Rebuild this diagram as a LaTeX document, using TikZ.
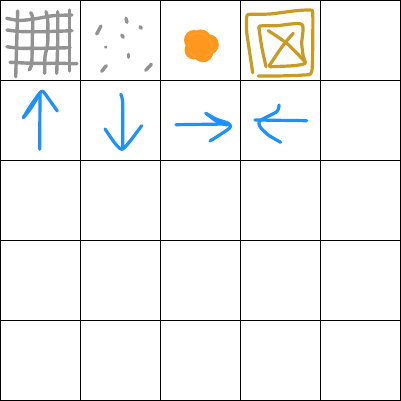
\documentclass[tikz,border=0pt]{standalone}
\definecolor{gridgrey}{HTML}{939393}
\definecolor{inkorange}{HTML}{FF961E}
\definecolor{inkorangelt}{HTML}{FFA43A}
\definecolor{inkgold}{HTML}{CB9A22}
\definecolor{inkblue}{HTML}{1E90FF}
\tikzset{
  cellgrid/.style={draw=black,line width=1pt},
  pen/.style={line width=#1,line cap=round,line join=round},
  greypen/.style={pen=3.4pt,draw=gridgrey},
  goldpen/.style={pen=3.2pt,draw=inkgold},
  bluepen/.style={pen=3.2pt,draw=inkblue},
  curve/.style={smooth,tension=0.45}
}
\begin{document}
\begin{tikzpicture}[x=1pt,y=-1pt]
\useasboundingbox (0,0) rectangle (401,401);
\fill[white] (0,0) rectangle (401,401);
% grid
\foreach \k in {0.5,80.5,160.5,240.5,320.5,400.5}{
  \draw[cellgrid] (\k,0) -- (\k,401);
  \draw[cellgrid] (0,\k) -- (401,\k);
}
% cell 1: hatch
\draw[greypen] plot[curve] coordinates {(6.7,18.3)(20,20.5)(37,18.5)(53,15.7)(72,15)};
\draw[greypen] plot[curve] coordinates {(7,30)(20,31.5)(43,31.7)(72,30.7)};
\draw[greypen] plot[curve] coordinates {(7,46.7)(20,48.3)(43,48.3)(70,47.7)};
\draw[greypen] plot[curve] coordinates {(10,62.3)(33,63.3)(57,63.3)(77,63.7)};
\draw[greypen] plot[curve] coordinates {(17.7,11)(16.7,43)(15.7,76.7)};
\draw[greypen] plot[curve] coordinates {(30.7,12.7)(32.7,18.3)(32.3,40)(31.7,63.3)(29.3,70)};
\draw[greypen] plot[curve] coordinates {(46,11.7)(47.7,20)(47.7,43)(45,56.7)(44.7,73.3)};
\draw[greypen] plot[curve] coordinates {(57.7,11.7)(57.7,43)(56.7,73.3)};
\draw[greypen] plot[curve] coordinates {(69.3,10)(69.3,43)(69.3,71)};
% cell 2: specks
\draw[greypen] (101,26) -- (96.7,34);
\draw[greypen] (126,18.3) -- (127,22.3);
\draw[greypen] (140,26.7) -- (141.3,28.3);
\draw[greypen] (121.7,35) -- (123.3,37.3);
\draw[greypen] (105.7,47) -- (105.8,47.1);
\draw[greypen] (128.7,54.3) -- (128.7,57.3);
\draw[greypen] (106.3,65.7) -- (101.7,71.3);
\draw[greypen] (151.3,64.3) -- (145.7,70.3);
% cell 3: blob
\fill[inkorange] (194,40) circle[radius=10] (201,39.5) circle[radius=10] (208.5,44.5) circle[radius=10.3] (203,52) circle[radius=10.3] (194,50) circle[radius=9.5];
\draw[pen=0.7pt,draw=inkorangelt] plot[smooth,tension=0.6] coordinates {(189,37)(198,33)(208,38)(212,48)(207,56)(196,57)(189,50)(189,37)};
% cell 4: boxes
\draw[goldpen] plot[curve] coordinates {(252.7,72.7)(249.3,50)(246.7,31.7)(246.7,16.7)(250,14.3)(270,14)(293.3,11)(310,10)(312.7,13.3)(312.7,40)(311.7,71.7)(303.3,75)(276.7,76)(258.3,76)};
\draw[goldpen] plot[curve] coordinates {(266,66.7)(261.7,46.7)(259.3,30)(260,26)(276.7,25.7)(301.7,24.3)(301.7,43.3)(303.3,56.7)(305,63.3)(293.3,65.7)(270,66.7)};
\draw[goldpen] plot[curve] coordinates {(268.3,30.7)(286.7,43.3)(304.3,61)};
\draw[goldpen] plot[curve] coordinates {(293.3,33.3)(283.3,45)(269,66)};
% row 2: arrows
\draw[bluepen] (39.7,149.3) -- (40,93.3);
\draw[bluepen] plot[curve] coordinates {(23.3,117.7)(30,106.7)(40,92.7)(43.3,91.7)(50,100.7)(57.3,111)};
\draw[bluepen] plot[curve] coordinates {(24,117)(31,108)(39,95)};
\draw[bluepen] plot[curve] coordinates {(120.7,94.3)(122.7,103.3)(122.7,148.3)};
\draw[bluepen] plot[curve] coordinates {(105,129)(115,143.3)(121.7,149.3)(128.3,143.3)(141.7,125.7)};
\draw[bluepen] (176,124.7) -- (228.3,124);
\draw[bluepen] plot[curve] coordinates {(205.7,113.3)(216.7,119.3)(228.3,123.3)(229.3,128.3)(210,141)};
\draw[bluepen] plot[curve] coordinates {(207,114)(217,121.5)(227,125)};
\draw[bluepen] (306.7,120.7) -- (255,120);
\draw[bluepen] plot[curve] coordinates {(279,105)(276.7,111.7)(260,120.7)(260,126.7)(268.3,135)(280.7,142.3)};
\end{tikzpicture}
\end{document}
